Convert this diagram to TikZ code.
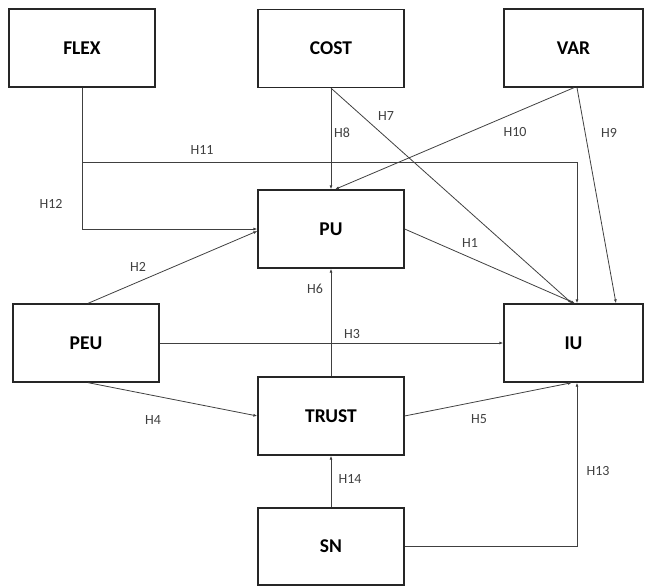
\documentclass[tikz,border=0pt]{standalone}
\usepackage{fontspec}
\setmainfont{Carlito}
\usetikzlibrary{arrows.meta,calc}
\begin{document}
\begin{tikzpicture}[x=1pt,y=-1pt,
  box/.style={draw=black!85,line width=1.3pt,minimum width=146pt,minimum height=78pt,inner sep=0pt,font=\fontsize{19.5}{19.5}\selectfont\bfseries},
  link/.style={draw=black!75,line width=0.8pt,-{Latex[length=4pt,width=3pt]}},
  lab/.style={font=\fontsize{14}{14}\selectfont,text=black!75,inner sep=0pt}]
\useasboundingbox (0,0) rectangle (645,586);
\node[box] (FLEX) at (82,48) {FLEX};
\node[box] (COST) at (331,48.5) {COST};
\node[box,minimum width=139pt] (VAR) at (573.5,48) {VAR};
\node[box] (PU) at (331,229) {PU};
\node[box] (PEU) at (86,343) {PEU};
\node[box,minimum width=139pt] (IU) at (573.5,343) {IU};
\node[box] (TRUST) at (331,416) {TRUST};
\node[box,minimum height=77pt] (SN) at (331,546.5) {SN};
% connectors
\coordinate (j11) at (FLEX.south |- 0,162);
\draw[link] (FLEX.south) |- (PU.west);
\draw[link] (j11) -| ([xshift=3.5pt]IU.north);
\draw[link] (COST.south) -- (PU.north);
\draw[link] (COST.south) -- ([xshift=-1.5pt]IU.north);
\draw[link] ([xshift=0.5pt]VAR.south) -- ([xshift=4pt]PU.north);
\draw[link] ([xshift=3.5pt]VAR.south) -- ([xshift=42.5pt]IU.north);
\draw[link] (PU.east) -- ([xshift=1.5pt]IU.north);
\draw[link] ([xshift=2pt]PEU.north) -- ([yshift=-2pt]PU.west);
\draw[link] (TRUST.north) -- (PU.south);
\draw[link] (PEU.east) -- (IU.west);
\draw[link] ([xshift=2pt]PEU.south) -- (TRUST.west);
\draw[link] (TRUST.east) -- ([xshift=-1.5pt]IU.south);
\draw[link] (SN.north) -- (TRUST.south);
\draw[link] (SN.east) -| ([xshift=3.5pt]IU.south);
% labels
\node[lab] (l12) at (51,204) {H12};
\node[lab] (l11) at (202,150) {H11};
\node[lab] (l8) at (342,133) {H8};
\node[lab] (l7) at (386,116) {H7};
\node[lab] (l10) at (515,132) {H10};
\node[lab] (l9) at (609,133) {H9};
\node[lab] (l1) at (470,243) {H1};
\node[lab] (l2) at (138,267) {H2};
\node[lab] (l6) at (315,289) {H6};
\node[lab] (l3) at (352,334) {H3};
\node[lab] (l4) at (153,420) {H4};
\node[lab] (l5) at (479,419) {H5};
\node[lab] (l14) at (350,479) {H14};
\node[lab] (l13) at (598,471) {H13};
\end{tikzpicture}
\end{document}
